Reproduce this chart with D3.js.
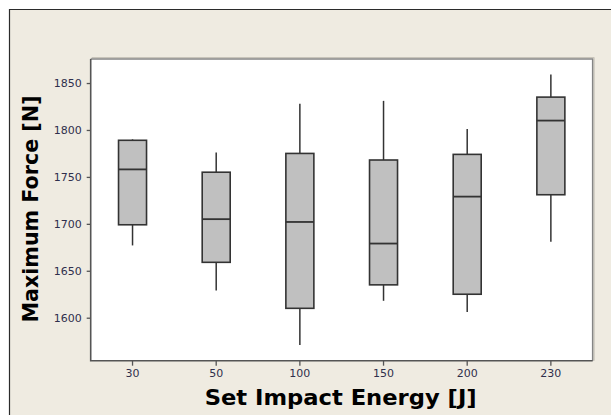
<!DOCTYPE html>
<html><head><meta charset="utf-8">
<script src="https://cdn.jsdelivr.net/npm/d3@7"></script>
<style>html,body{margin:0;padding:0;background:#fff;overflow:hidden;}svg{display:block;}</style>
</head><body>
<svg id="c" width="611" height="415"></svg>
<script>
const categories = ["30","50","100","150","200","230"];
const whiskerLow  = [1677, 1629, 1571, 1618, 1606, 1681];
const q1          = [1699, 1659, 1610, 1635, 1625, 1731];
const median      = [1758, 1705, 1702, 1679, 1729, 1810];
const q3          = [1789, 1755, 1775, 1768, 1774, 1835];
const whiskerHigh = [1790, 1776, 1828, 1831, 1801, 1859];
const yTicks = [1600, 1650, 1700, 1750, 1800, 1850];

const svg = d3.select("#c");
const W = 611, H = 415;
const L = 90.7, R = 592.7, T = 59, B = 360.7;

// outer frame (only top and left edges are inside the picture)
svg.append("rect").attr("x", 9).attr("y", 9).attr("width", W - 9).attr("height", H - 9)
  .attr("fill", "#efebe1");
svg.append("path").attr("d", `M9.5,${H}V9.5H${W}`).attr("fill", "none")
  .attr("stroke", "#2b2b2b").attr("stroke-width", 1.2);

// plot background with shadow on right/top
svg.append("rect").attr("x", L).attr("y", T).attr("width", R - L).attr("height", B - T)
  .attr("fill", "#fff");
svg.append("path").attr("d", `M${L},${T}H${R}V${B}`).attr("fill", "none")
  .attr("stroke", "#858585").attr("stroke-width", 1.6);
svg.append("path").attr("d", `M${L+1},${T-1.5}H${R+1.5}V${B}`).attr("fill", "none")
  .attr("stroke", "#c8c4ba").attr("stroke-width", 1);

const x = d3.scaleBand().domain(categories).range([L, R]).padding(0);
const y = d3.scaleLinear().domain([1554.2, 1875.6]).range([B, T]);

const data = categories.map((c, i) => ({c, lo: whiskerLow[i], q1: q1[i], md: median[i], q3: q3[i], hi: whiskerHigh[i]}));
const bw = 28;
const g = svg.append("g");
const box = g.selectAll("g.b").data(data).join("g");
const cx = d => x(d.c) + x.bandwidth() / 2;
box.append("line").attr("x1", cx).attr("x2", cx).attr("y1", d => y(d.hi)).attr("y2", d => y(d.q3))
  .attr("stroke", "#333").attr("stroke-width", 1.5);
box.append("line").attr("x1", cx).attr("x2", cx).attr("y1", d => y(d.q1)).attr("y2", d => y(d.lo))
  .attr("stroke", "#333").attr("stroke-width", 1.5);
box.append("rect").attr("x", d => cx(d) - bw / 2).attr("width", bw)
  .attr("y", d => y(d.q3)).attr("height", d => y(d.q1) - y(d.q3))
  .attr("fill", "#c0c0c0").attr("stroke", "#333").attr("stroke-width", 1.6);
box.append("line").attr("x1", d => cx(d) - bw / 2).attr("x2", d => cx(d) + bw / 2)
  .attr("y1", d => y(d.md)).attr("y2", d => y(d.md))
  .attr("stroke", "#333").attr("stroke-width", 1.8);

// axes
const yAxis = d3.axisLeft(y).tickValues(yTicks).tickSize(4).tickPadding(5).tickFormat(d3.format("d"));
const ya = svg.append("g").attr("transform", `translate(${L},0)`).call(yAxis);
const xAxis = d3.axisBottom(x).tickSize(5).tickPadding(4);
const xa = svg.append("g").attr("transform", `translate(0,${B})`).call(xAxis);
[ya, xa].forEach(a => {
  a.select(".domain").remove();
  a.selectAll(".tick line").attr("stroke", "#555").attr("stroke-width", 1.3);
  a.selectAll(".tick text").attr("fill", "#2f2f4c").attr("font-family", "DejaVu Sans").attr("font-size", 11);
});
svg.append("path").attr("d", `M${L},${T}V${B}H${R}`).attr("fill", "none")
  .attr("stroke", "#555").attr("stroke-width", 1.6);

// titles
svg.append("text").attr("x", (L + R) / 2 - 1).attr("y", 405)
  .attr("text-anchor", "middle").attr("font-family", "DejaVu Sans").attr("font-weight", "bold")
  .attr("font-size", 22).attr("fill", "#000").attr("textLength", 272).attr("lengthAdjust", "spacingAndGlyphs")
  .text("Set Impact Energy [J]");
svg.append("text").attr("transform", `translate(38,209) rotate(-90)`)
  .attr("text-anchor", "middle").attr("font-family", "DejaVu Sans").attr("font-weight", "bold")
  .attr("font-size", 21).attr("fill", "#000").attr("textLength", 227).attr("lengthAdjust", "spacingAndGlyphs")
  .text("Maximum Force [N]");
</script>
</body></html>
